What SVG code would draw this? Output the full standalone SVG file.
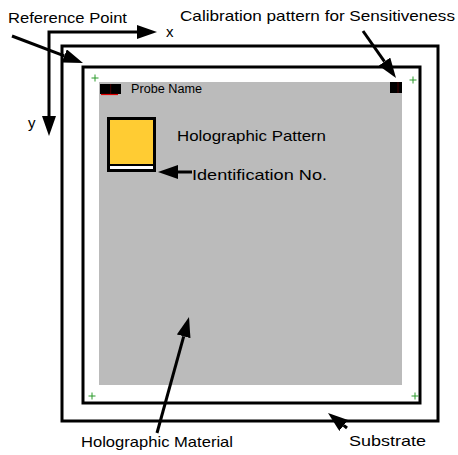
<svg xmlns="http://www.w3.org/2000/svg" width="458" height="455" viewBox="0 0 458 455">
<style>
.lbl{font-family:"Liberation Sans",Arial,sans-serif;font-size:15px;fill:#000}
.small{font-size:12px}
.frame{fill:none;stroke:#000;stroke-width:3}
.arrow{fill:none;stroke:#000;stroke-width:3;marker-end:url(#ah)}
.cross{stroke:#2a9a2a;stroke-width:1;fill:none}
</style>
<defs>
<marker id="ah" viewBox="0 0 20 14" markerWidth="20" markerHeight="14" refX="0" refY="7" orient="auto-start-reverse" markerUnits="userSpaceOnUse">
<path d="M0,0 L20,7 L0,14 Z" fill="#000"/>
</marker>
<path id="plus" d="M-3.5,0 H3.5 M0,-3.5 V3.5"/>
</defs>
<rect width="458" height="455" fill="#fff"/>
<g id="substrate">
<rect class="frame" x="62" y="46" width="376" height="375"/>
</g>
<g id="holographic-material">
<rect class="frame" x="83" y="67" width="337" height="336" stroke-width="2.5"/>
<rect x="99" y="82" width="303" height="303" fill="#bbbbbb"/>
</g>
<g id="alignment-marks" class="cross">
<use href="#plus" x="95" y="78"/>
<use href="#plus" x="413" y="80"/>
<use href="#plus" x="92" y="396"/>
<use href="#plus" x="415" y="396"/>
</g>
<g id="probe-name">
<rect x="100" y="84" width="21" height="10" fill="#000"/>
<line x1="110.7" y1="84" x2="110.7" y2="94" stroke="#5a0000" stroke-width="0.8"/>
<line x1="101" y1="94.5" x2="118" y2="94.5" stroke="#e00000" stroke-width="1.2"/>
<text class="lbl small" x="131" y="93" textLength="71" lengthAdjust="spacingAndGlyphs">Probe Name</text>
</g>
<g id="calibration-pattern">
<rect x="390" y="82" width="12" height="11" fill="#000"/>
<line x1="398" y1="82" x2="398" y2="93" stroke="#5a0000" stroke-width="0.8"/>
</g>
<g id="holographic-pattern">
<rect x="108.5" y="118.5" width="46" height="52" fill="#fff" stroke="#000" stroke-width="3"/>
<rect x="110" y="120" width="43" height="44" fill="#ffcc33"/>
<line x1="110" y1="165" x2="153" y2="165" stroke="#000" stroke-width="2"/>
</g>
<g id="labels">
<text class="lbl" x="8" y="23" textLength="119" lengthAdjust="spacingAndGlyphs">Reference Point</text>
<text class="lbl" x="180" y="21" textLength="275" lengthAdjust="spacingAndGlyphs">Calibration pattern for Sensitiveness</text>
<text class="lbl" x="166" y="37">x</text>
<text class="lbl" x="28" y="128">y</text>
<text class="lbl" x="177" y="141" textLength="149" lengthAdjust="spacingAndGlyphs">Holographic Pattern</text>
<text class="lbl" x="192" y="180" textLength="135" lengthAdjust="spacingAndGlyphs">Identification No.</text>
<text class="lbl" x="81" y="447" textLength="152" lengthAdjust="spacingAndGlyphs">Holographic Material</text>
<text class="lbl" x="349" y="446" textLength="77" lengthAdjust="spacingAndGlyphs">Substrate</text>
</g>
<g id="connectors">
<path class="arrow" d="M137,32 H49 V116" style="marker-start:url(#ah)"/>
<path class="arrow" d="M12,36 L64.3,55.9"/>
<path class="arrow" d="M363,31 L384.5,61.6"/>
<path class="arrow" d="M157,433 L183.7,336.3"/>
<path class="arrow" d="M347,428 L343.7,425.4"/>
<path class="arrow" d="M192,172 L178,172"/>
</g>
</svg>
